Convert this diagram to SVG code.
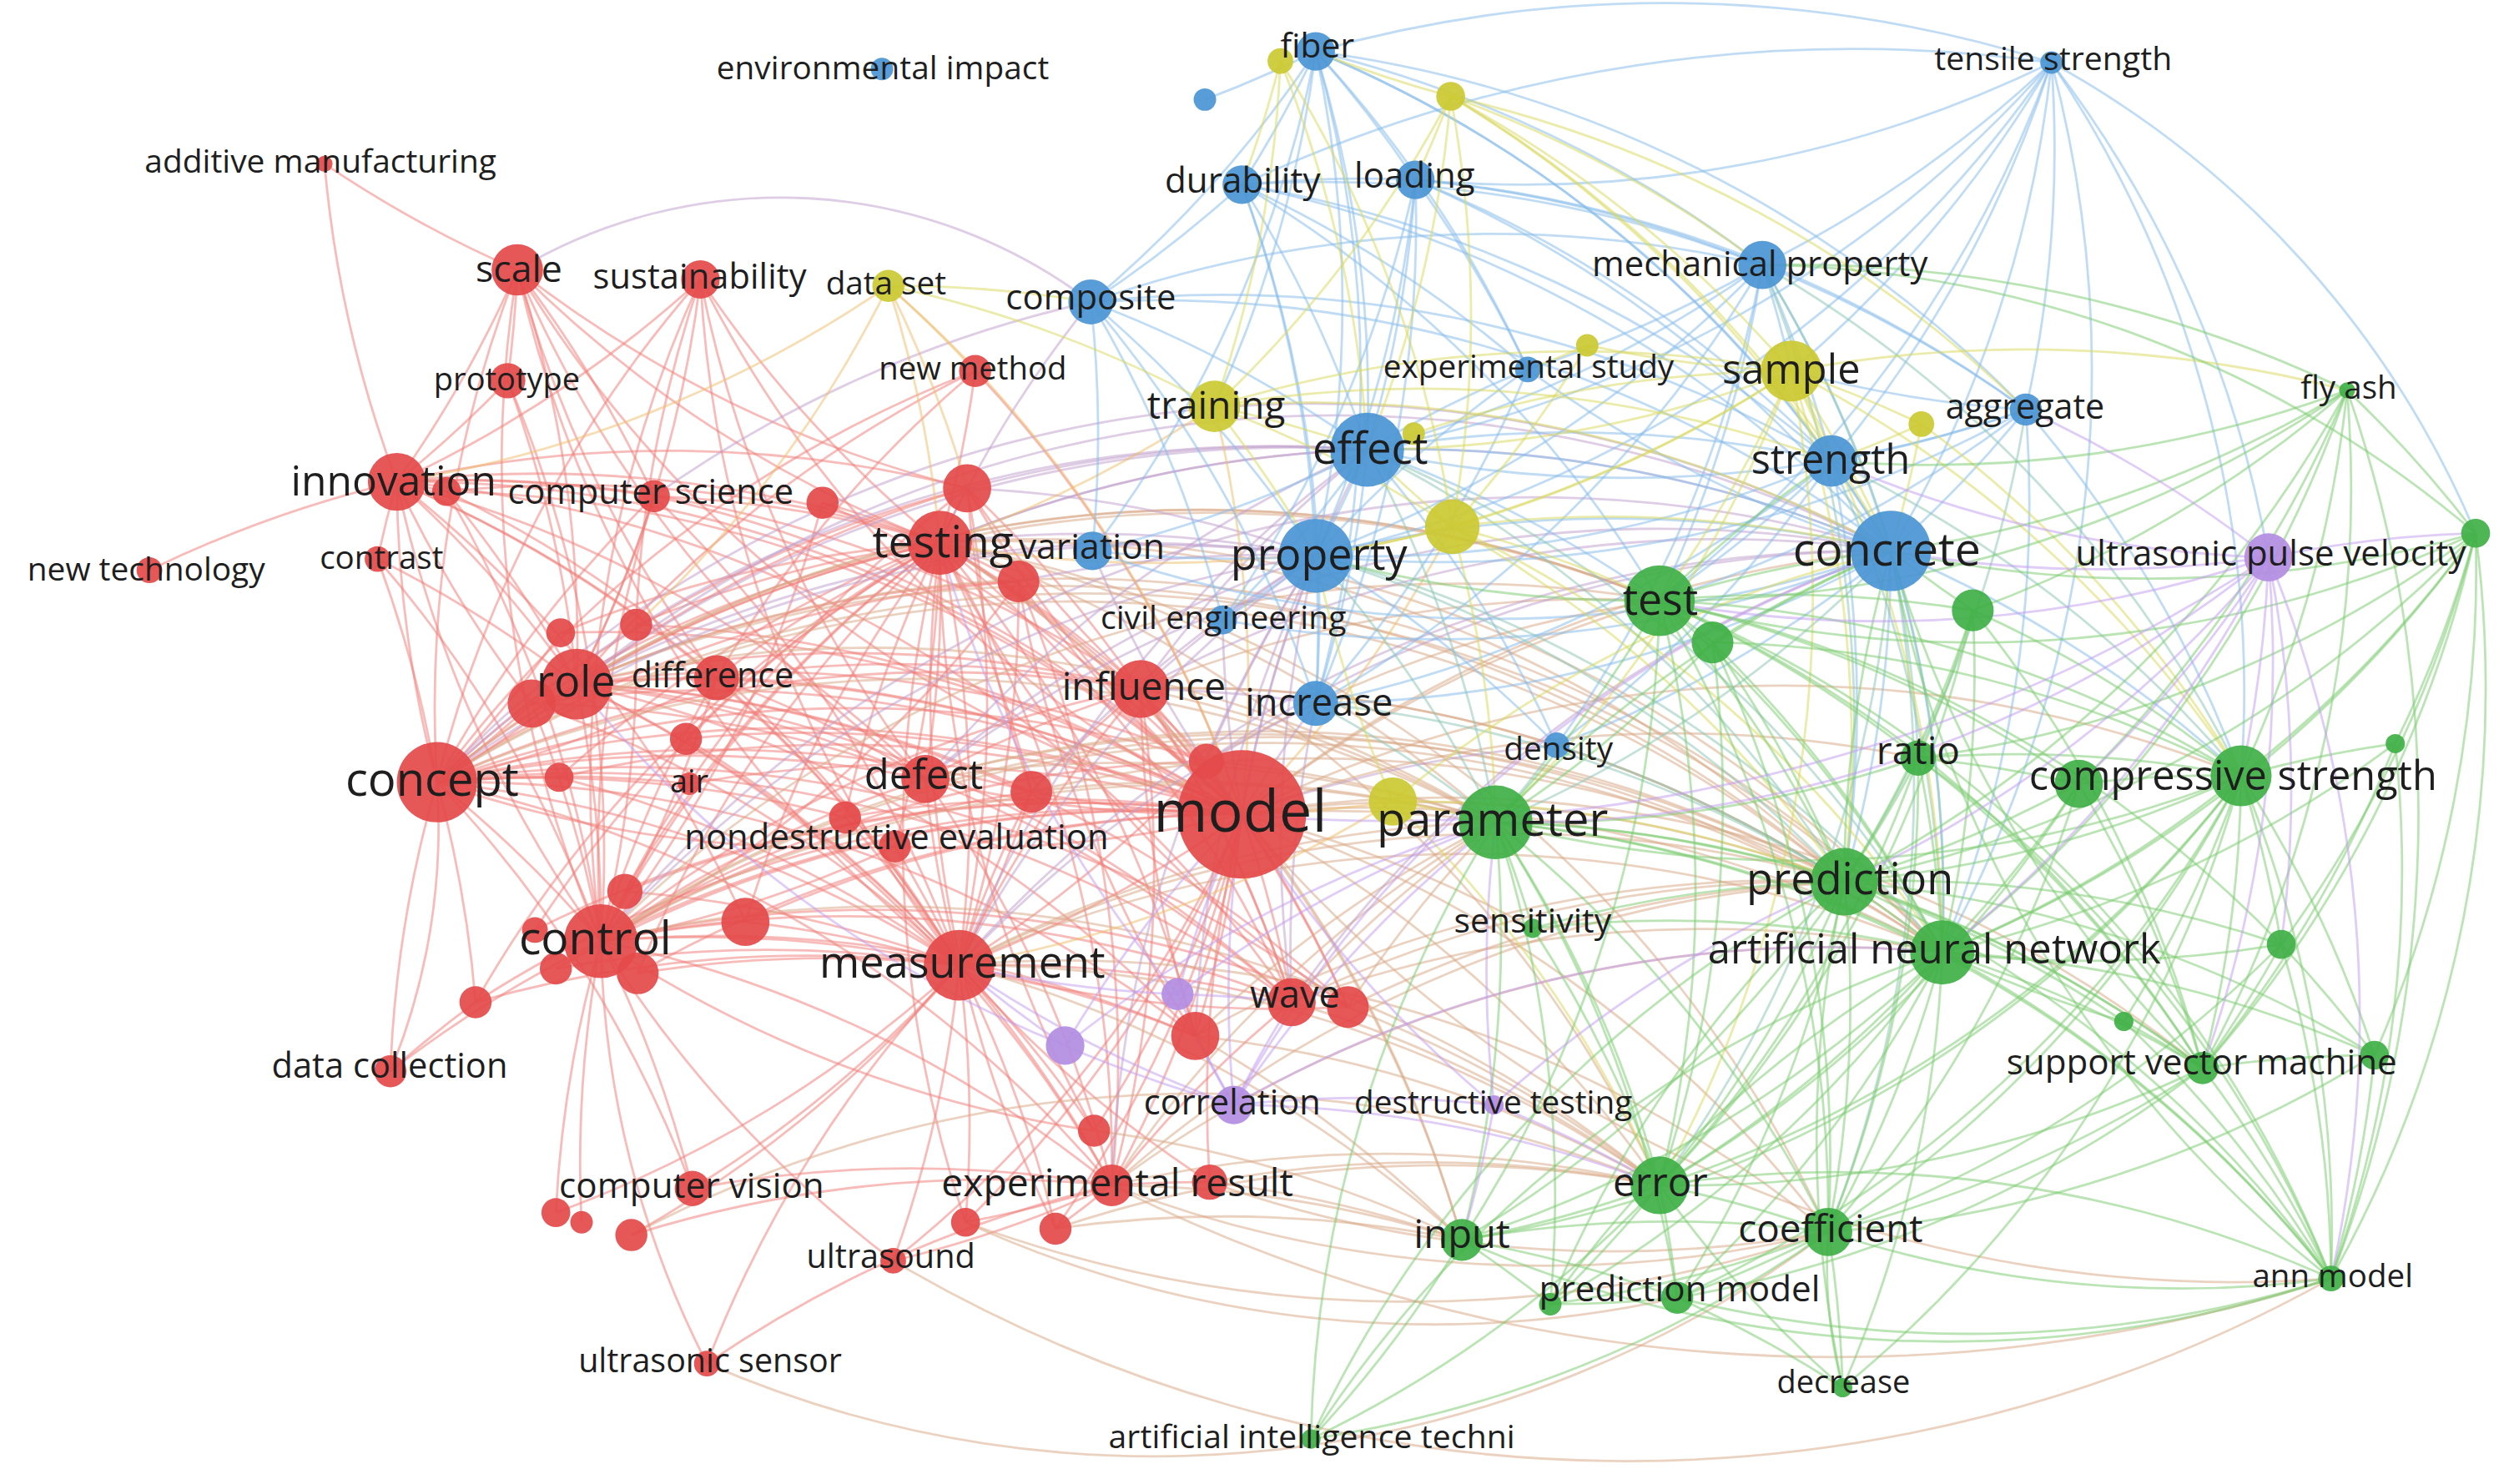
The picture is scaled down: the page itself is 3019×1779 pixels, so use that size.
<svg xmlns="http://www.w3.org/2000/svg" width="3019" height="1779" viewBox="0 0 3019 1779">
<style>
.c path{fill:none;stroke-width:1.45;stroke-opacity:.52}
.er{stroke:#f07e78}.eg{stroke:#7ccb72}.eb{stroke:#86bcea}.ey{stroke:#d8d860}.ep{stroke:#c29ef0}.em{stroke:#d9a886}.ex{stroke:#c0a0cc}.eo{stroke:#eebd6e}.et{stroke:#8cc6b4}
.nr{fill:#e44a4a}.nb{fill:#4b96d4}.ng{fill:#41b047}.ny{fill:#cbc933}.np{fill:#b48ee2}
circle{fill-opacity:.93}
text{font-family:"Open Sans","Noto Sans","DejaVu Sans",sans-serif;fill:#1e1e1e;text-anchor:middle}
</style>
<rect width="3019" height="1779" fill="#fff"/>
<g transform="scale(1.92538)">
<g id="connectors" class="c">
<path class="er" d="M322 168A750 750 0 0 1 202 102"/>
<path class="er" d="M247 300A750 750 0 0 1 202 102"/>
<path class="er" d="M322 168A750 750 0 0 1 247 300"/>
<path class="er" d="M322 168A750 750 0 0 1 316 237"/>
<path class="er" d="M322 168A750 750 0 0 1 359 426"/>
<path class="er" d="M322 168A750 750 0 0 1 407 309"/>
<path class="er" d="M585 338A750 750 0 0 1 322 168"/>
<path class="er" d="M773 507A750 750 0 0 1 322 168"/>
<path class="er" d="M576 485A750 750 0 0 1 322 168"/>
<path class="er" d="M446 422A750 750 0 0 1 322 168"/>
<path class="er" d="M602 304A750 750 0 0 1 322 168"/>
<path class="er" d="M597 601A750 750 0 0 1 322 168"/>
<path class="er" d="M272 487A750 750 0 0 1 322 168"/>
<path class="er" d="M374 586A750 750 0 0 1 322 168"/>
<path class="er" d="M436 174A750 750 0 0 1 247 300"/>
<path class="er" d="M436 174A750 750 0 0 1 359 426"/>
<path class="er" d="M585 338A750 750 0 0 1 436 174"/>
<path class="er" d="M773 507A750 750 0 0 1 436 174"/>
<path class="er" d="M374 586A750 750 0 0 1 436 174"/>
<path class="er" d="M272 487A750 750 0 0 1 436 174"/>
<path class="er" d="M576 485A750 750 0 0 1 436 174"/>
<path class="er" d="M396 389A750 750 0 0 1 436 174"/>
<path class="er" d="M597 601A750 750 0 0 1 436 174"/>
<path class="er" d="M316 237A750 750 0 0 1 247 300"/>
<path class="er" d="M316 237A750 750 0 0 1 359 426"/>
<path class="er" d="M316 237A750 750 0 0 1 374 586"/>
<path class="er" d="M93 355A750 750 0 0 1 247 300"/>
<path class="er" d="M235 348A750 750 0 0 1 247 300"/>
<path class="er" d="M247 300A750 750 0 0 1 278 306"/>
<path class="er" d="M247 300A750 750 0 0 1 407 309"/>
<path class="er" d="M247 300A750 750 0 0 1 359 426"/>
<path class="er" d="M272 487A750 750 0 0 1 247 300"/>
<path class="er" d="M374 586A750 750 0 0 1 247 300"/>
<path class="er" d="M247 300A750 750 0 0 1 585 338"/>
<path class="er" d="M247 300A750 750 0 0 1 773 507"/>
<path class="er" d="M247 300A750 750 0 0 1 597 601"/>
<path class="er" d="M247 300A750 750 0 0 1 576 485"/>
<path class="er" d="M247 300A750 750 0 0 1 446 422"/>
<path class="er" d="M247 300A750 750 0 0 1 602 304"/>
<path class="er" d="M247 300A750 750 0 0 1 464 574"/>
<path class="er" d="M331 438A750 750 0 0 1 247 300"/>
<path class="er" d="M247 300A750 750 0 0 1 710 429"/>
<path class="er" d="M235 348A750 750 0 0 1 359 426"/>
<path class="er" d="M235 348A750 750 0 0 1 272 487"/>
<path class="er" d="M235 348A750 750 0 0 1 374 586"/>
<path class="er" d="M407 309A750 750 0 0 1 359 426"/>
<path class="er" d="M407 309A750 750 0 0 1 585 338"/>
<path class="er" d="M407 309A750 750 0 0 1 773 507"/>
<path class="er" d="M272 487A750 750 0 0 1 407 309"/>
<path class="er" d="M374 586A750 750 0 0 1 407 309"/>
<path class="er" d="M407 309A750 750 0 0 1 597 601"/>
<path class="er" d="M607 231A750 750 0 0 1 585 338"/>
<path class="er" d="M607 231A750 750 0 0 1 773 507"/>
<path class="er" d="M359 426A750 750 0 0 1 607 231"/>
<path class="er" d="M374 586A750 750 0 0 1 607 231"/>
<path class="er" d="M272 487A750 750 0 0 1 607 231"/>
<path class="er" d="M512 313A750 750 0 0 1 585 338"/>
<path class="er" d="M512 313A750 750 0 0 1 773 507"/>
<path class="er" d="M359 426A750 750 0 0 1 272 487"/>
<path class="er" d="M359 426A750 750 0 0 1 374 586"/>
<path class="er" d="M359 426A750 750 0 0 1 585 338"/>
<path class="er" d="M359 426A750 750 0 0 1 773 507"/>
<path class="er" d="M359 426A750 750 0 0 1 597 601"/>
<path class="er" d="M359 426A750 750 0 0 1 576 485"/>
<path class="er" d="M359 426A750 750 0 0 1 710 429"/>
<path class="er" d="M359 426A750 750 0 0 1 446 422"/>
<path class="er" d="M359 426A750 750 0 0 1 642 493"/>
<path class="er" d="M359 426A750 750 0 0 1 804 624"/>
<path class="er" d="M359 426A750 750 0 0 1 602 304"/>
<path class="er" d="M359 426A750 750 0 0 1 634 362"/>
<path class="er" d="M359 426A750 750 0 0 1 744 645"/>
<path class="er" d="M359 426A750 750 0 0 1 751 474"/>
<path class="er" d="M359 426A750 750 0 0 1 692 738"/>
<path class="er" d="M331 438A750 750 0 0 1 272 487"/>
<path class="er" d="M331 438A750 750 0 0 1 374 586"/>
<path class="er" d="M331 438A750 750 0 0 1 773 507"/>
<path class="er" d="M331 438A750 750 0 0 1 585 338"/>
<path class="er" d="M446 422A750 750 0 0 1 272 487"/>
<path class="er" d="M446 422A750 750 0 0 1 374 586"/>
<path class="er" d="M446 422A750 750 0 0 1 773 507"/>
<path class="er" d="M446 422A750 750 0 0 1 585 338"/>
<path class="er" d="M446 422A750 750 0 0 1 597 601"/>
<path class="er" d="M272 487A750 750 0 0 1 374 586"/>
<path class="er" d="M272 487A750 750 0 0 1 585 338"/>
<path class="er" d="M272 487A750 750 0 0 1 773 507"/>
<path class="er" d="M272 487A750 750 0 0 1 597 601"/>
<path class="er" d="M272 487A750 750 0 0 1 576 485"/>
<path class="er" d="M272 487A750 750 0 0 1 710 429"/>
<path class="er" d="M272 487A750 750 0 0 1 804 624"/>
<path class="er" d="M272 487A750 750 0 0 1 692 738"/>
<path class="er" d="M272 487A750 750 0 0 1 602 304"/>
<path class="er" d="M272 487A750 750 0 0 1 634 362"/>
<path class="er" d="M272 487A750 750 0 0 1 642 493"/>
<path class="er" d="M243 667A750 750 0 0 1 272 487"/>
<path class="er" d="M272 487A400 400 0 0 1 243 667"/>
<path class="er" d="M272 487A750 750 0 0 1 296 624"/>
<path class="er" d="M272 487A750 750 0 0 1 751 474"/>
<path class="er" d="M272 487A750 750 0 0 1 744 645"/>
<path class="er" d="M272 487A750 750 0 0 1 839 627"/>
<path class="er" d="M272 487A750 750 0 0 1 431 740"/>
<path class="er" d="M272 487A750 750 0 0 1 429 488"/>
<path class="er" d="M272 487A750 750 0 0 1 348 484"/>
<path class="er" d="M272 487A750 750 0 0 1 526 509"/>
<path class="er" d="M374 586A750 750 0 0 1 585 338"/>
<path class="er" d="M374 586A750 750 0 0 1 773 507"/>
<path class="er" d="M374 586A750 750 0 0 1 597 601"/>
<path class="er" d="M374 586A750 750 0 0 1 576 485"/>
<path class="er" d="M374 586A750 750 0 0 1 710 429"/>
<path class="er" d="M374 586A750 750 0 0 1 804 624"/>
<path class="er" d="M374 586A750 750 0 0 1 692 738"/>
<path class="er" d="M374 586A750 750 0 0 1 602 304"/>
<path class="er" d="M374 586A750 750 0 0 1 744 645"/>
<path class="er" d="M243 667A750 750 0 0 1 374 586"/>
<path class="er" d="M374 586A750 750 0 0 1 431 740"/>
<path class="er" d="M440 849A600 600 0 0 1 374 586"/>
<path class="er" d="M374 586A750 750 0 0 1 642 493"/>
<path class="er" d="M374 586A750 750 0 0 1 464 574"/>
<path class="er" d="M374 586A750 750 0 0 1 839 627"/>
<path class="er" d="M374 586A750 750 0 0 1 751 474"/>
<path class="er" d="M556 785A750 750 0 0 1 374 586"/>
<path class="er" d="M585 338A750 750 0 0 1 773 507"/>
<path class="er" d="M585 338A750 750 0 0 1 597 601"/>
<path class="er" d="M585 338A750 750 0 0 1 576 485"/>
<path class="er" d="M585 338A750 750 0 0 1 710 429"/>
<path class="er" d="M585 338A750 750 0 0 1 602 304"/>
<path class="er" d="M585 338A750 750 0 0 1 634 362"/>
<path class="er" d="M585 338A750 750 0 0 1 804 624"/>
<path class="er" d="M585 338A750 750 0 0 1 692 738"/>
<path class="er" d="M585 338A750 750 0 0 1 744 645"/>
<path class="er" d="M585 338A750 750 0 0 1 642 493"/>
<path class="er" d="M585 338A750 750 0 0 1 751 474"/>
<path class="er" d="M585 338A750 750 0 0 1 557 527"/>
<path class="er" d="M773 507A750 750 0 0 1 597 601"/>
<path class="er" d="M773 507A750 750 0 0 1 576 485"/>
<path class="er" d="M773 507A750 750 0 0 1 710 429"/>
<path class="er" d="M773 507A750 750 0 0 1 804 624"/>
<path class="er" d="M773 507A750 750 0 0 1 692 738"/>
<path class="er" d="M773 507A750 750 0 0 1 744 645"/>
<path class="er" d="M773 507A750 750 0 0 1 642 493"/>
<path class="er" d="M773 507A750 750 0 0 1 751 474"/>
<path class="er" d="M773 507A750 750 0 0 1 839 627"/>
<path class="er" d="M773 507A750 750 0 0 1 681 704"/>
<path class="er" d="M773 507A750 750 0 0 1 657 765"/>
<path class="er" d="M773 507A750 750 0 0 1 601 761"/>
<path class="er" d="M773 507A750 750 0 0 1 556 785"/>
<path class="er" d="M773 507A750 750 0 0 1 602 304"/>
<path class="er" d="M773 507A750 750 0 0 1 634 362"/>
<path class="er" d="M773 507A750 750 0 0 1 557 527"/>
<path class="er" d="M597 601A750 750 0 0 1 576 485"/>
<path class="er" d="M597 601A750 750 0 0 1 804 624"/>
<path class="er" d="M597 601A750 750 0 0 1 692 738"/>
<path class="er" d="M597 601A750 750 0 0 1 744 645"/>
<path class="er" d="M597 601A750 750 0 0 1 556 785"/>
<path class="er" d="M597 601A750 750 0 0 1 601 761"/>
<path class="er" d="M597 601A750 750 0 0 1 657 765"/>
<path class="er" d="M597 601A750 750 0 0 1 681 704"/>
<path class="er" d="M440 849A750 750 0 0 1 597 601"/>
<path class="er" d="M597 601A750 750 0 0 1 431 740"/>
<path class="er" d="M597 601A750 750 0 0 1 393 769"/>
<path class="er" d="M597 601A750 750 0 0 1 346 755"/>
<path class="er" d="M597 601A750 750 0 0 1 710 429"/>
<path class="er" d="M597 601A750 750 0 0 1 642 493"/>
<path class="er" d="M692 738A750 750 0 0 1 804 624"/>
<path class="er" d="M692 738A750 750 0 0 1 753 736"/>
<path class="er" d="M692 738A750 750 0 0 1 657 765"/>
<path class="er" d="M692 738A750 750 0 0 1 601 761"/>
<path class="er" d="M692 738A750 750 0 0 1 556 785"/>
<path class="er" d="M431 740A750 750 0 0 1 692 738"/>
<path class="er" d="M393 769A750 750 0 0 1 692 738"/>
<path class="er" d="M243 667A750 750 0 0 1 296 624"/>
<path class="er" d="M296 624A750 750 0 0 1 773 507"/>
<path class="er" d="M389 555A750 750 0 0 1 773 507"/>
<path class="er" d="M389 555A750 750 0 0 1 585 338"/>
<path class="er" d="M333 579A750 750 0 0 1 773 507"/>
<path class="er" d="M346 603A750 750 0 0 1 597 601"/>
<path class="er" d="M397 606A750 750 0 0 1 773 507"/>
<path class="er" d="M397 606A750 750 0 0 1 585 338"/>
<path class="er" d="M464 574A750 750 0 0 1 773 507"/>
<path class="er" d="M464 574A750 750 0 0 1 585 338"/>
<path class="er" d="M296 624A750 750 0 0 1 597 601"/>
<path class="er" d="M349 394A750 750 0 0 1 773 507"/>
<path class="er" d="M396 389A750 750 0 0 1 585 338"/>
<path class="er" d="M427 460A750 750 0 0 1 773 507"/>
<path class="er" d="M429 488A750 750 0 0 1 773 507"/>
<path class="er" d="M348 484A750 750 0 0 1 597 601"/>
<path class="er" d="M526 509A750 750 0 0 1 773 507"/>
<path class="er" d="M576 485A750 750 0 0 1 710 429"/>
<path class="er" d="M576 485A750 750 0 0 1 804 624"/>
<path class="er" d="M710 429A750 750 0 0 1 804 624"/>
<path class="er" d="M710 429A750 750 0 0 1 692 738"/>
<path class="er" d="M710 429A750 750 0 0 1 602 304"/>
<path class="er" d="M362 761A750 750 0 0 1 374 586"/>
<path class="er" d="M346 755A750 750 0 0 1 374 586"/>
<path class="er" d="M278 306A750 750 0 0 1 773 507"/>
<path class="er" d="M278 306A750 750 0 0 1 597 601"/>
<path class="er" d="M512 313A750 750 0 0 1 374 586"/>
<path class="er" d="M634 362A750 750 0 0 1 692 738"/>
<path class="er" d="M602 304A750 750 0 0 1 804 624"/>
<path class="er" d="M440 849A750 750 0 0 1 692 738"/>
<path class="er" d="M349 394A750 750 0 0 1 585 338"/>
<path class="er" d="M427 460A750 750 0 0 1 597 601"/>
<path class="er" d="M526 509A750 750 0 0 1 585 338"/>
<path class="er" d="M557 527A750 750 0 0 1 374 586"/>
<path class="er" d="M642 493A750 750 0 0 1 602 304"/>
<path class="er" d="M744 645A750 750 0 0 1 634 362"/>
<path class="er" d="M278 306A750 750 0 0 1 585 338"/>
<path class="er" d="M278 306A750 750 0 0 1 374 586"/>
<path class="er" d="M278 306A750 750 0 0 1 359 426"/>
<path class="er" d="M349 394A750 750 0 0 1 272 487"/>
<path class="er" d="M396 389A750 750 0 0 1 773 507"/>
<path class="er" d="M396 389A750 750 0 0 1 374 586"/>
<path class="er" d="M331 438A750 750 0 0 1 597 601"/>
<path class="er" d="M331 438A750 750 0 0 1 576 485"/>
<path class="er" d="M427 460A750 750 0 0 1 585 338"/>
<path class="er" d="M348 484A750 750 0 0 1 773 507"/>
<path class="er" d="M348 484A750 750 0 0 1 585 338"/>
<path class="er" d="M642 493A750 750 0 0 1 597 601"/>
<path class="er" d="M642 493A750 750 0 0 1 710 429"/>
<path class="er" d="M526 509A750 750 0 0 1 597 601"/>
<path class="er" d="M751 474A750 750 0 0 1 597 601"/>
<path class="er" d="M389 555A750 750 0 0 1 597 601"/>
<path class="er" d="M333 579A750 750 0 0 1 585 338"/>
<path class="er" d="M346 603A750 750 0 0 1 773 507"/>
<path class="er" d="M397 606A750 750 0 0 1 597 601"/>
<path class="er" d="M464 574A750 750 0 0 1 597 601"/>
<path class="er" d="M296 624A750 750 0 0 1 585 338"/>
<path class="er" d="M839 627A750 750 0 0 1 597 601"/>
<path class="er" d="M839 627A750 750 0 0 1 585 338"/>
<path class="er" d="M744 645A750 750 0 0 1 710 429"/>
<path class="er" d="M681 704A750 750 0 0 1 585 338"/>
<path class="er" d="M681 704A750 750 0 0 1 374 586"/>
<path class="er" d="M753 736A750 750 0 0 1 597 601"/>
<path class="er" d="M753 736A750 750 0 0 1 773 507"/>
<path class="er" d="M601 761A750 750 0 0 1 585 338"/>
<path class="er" d="M657 765A750 750 0 0 1 585 338"/>
<path class="er" d="M576 485A750 750 0 0 1 692 738"/>
<path class="er" d="M710 429A750 750 0 0 1 839 627"/>
<path class="er" d="M557 527A750 750 0 0 1 597 601"/>
<path class="er" d="M557 527A750 750 0 0 1 272 487"/>
<path class="er" d="M602 304A750 750 0 0 1 597 601"/>
<path class="er" d="M634 362A750 750 0 0 1 597 601"/>
<path class="er" d="M634 362A750 750 0 0 1 374 586"/>
<path class="er" d="M446 422A750 750 0 0 1 710 429"/>
<path class="er" d="M446 422A750 750 0 0 1 576 485"/>
<path class="er" d="M359 426A750 750 0 0 1 839 627"/>
<path class="er" d="M247 300A750 750 0 0 1 804 624"/>
<path class="em" d="M773 507A750 750 0 0 1 931 512"/>
<path class="em" d="M773 507A750 750 0 0 1 1209 593"/>
<path class="em" d="M773 507A750 750 0 0 1 1148 549"/>
<path class="em" d="M773 507A750 750 0 0 1 1177 343"/>
<path class="em" d="M773 507A750 750 0 0 1 1033 374"/>
<path class="em" d="M773 507A750 750 0 0 1 1033 738"/>
<path class="em" d="M773 507A750 750 0 0 1 910 772"/>
<path class="em" d="M773 507A750 750 0 0 1 1138 767"/>
<path class="em" d="M773 507A750 750 0 0 1 1395 483"/>
<path class="em" d="M585 338A750 750 0 0 1 931 512"/>
<path class="em" d="M585 338A750 750 0 0 1 1148 549"/>
<path class="em" d="M585 338A750 750 0 0 1 1209 593"/>
<path class="em" d="M597 601A750 750 0 0 1 931 512"/>
<path class="em" d="M597 601A750 750 0 0 1 1209 593"/>
<path class="em" d="M597 601A750 750 0 0 1 1033 738"/>
<path class="em" d="M597 601A750 750 0 0 1 1148 549"/>
<path class="em" d="M597 601A750 750 0 0 1 910 772"/>
<path class="em" d="M272 487A750 750 0 0 1 931 512"/>
<path class="em" d="M272 487A750 750 0 0 1 1148 549"/>
<path class="em" d="M374 586A750 750 0 0 1 931 512"/>
<path class="em" d="M374 586A750 750 0 0 1 1209 593"/>
<path class="em" d="M374 586A750 750 0 0 1 1033 738"/>
<path class="em" d="M359 426A750 750 0 0 1 931 512"/>
<path class="em" d="M359 426A750 750 0 0 1 1148 549"/>
<path class="em" d="M692 738A750 750 0 0 1 1033 738"/>
<path class="em" d="M692 738A750 750 0 0 1 910 772"/>
<path class="em" d="M692 738A750 750 0 0 1 1209 593"/>
<path class="em" d="M1138 767A750 750 0 0 1 692 738"/>
<path class="em" d="M1138 767A700 700 0 0 1 440 849"/>
<path class="em" d="M1451 796A900 900 0 0 1 556 785"/>
<path class="em" d="M1138 767A800 800 0 0 1 601 761"/>
<path class="em" d="M1451 796A1000 1000 0 0 1 692 738"/>
<path class="em" d="M804 624A750 750 0 0 1 931 512"/>
<path class="em" d="M804 624A750 750 0 0 1 1033 738"/>
<path class="em" d="M804 624A750 750 0 0 1 1209 593"/>
<path class="em" d="M710 429A750 750 0 0 1 931 512"/>
<path class="em" d="M710 429A750 750 0 0 1 1148 549"/>
<path class="em" d="M576 485A750 750 0 0 1 931 512"/>
<path class="em" d="M576 485A750 750 0 0 1 1209 593"/>
<path class="em" d="M642 493A750 750 0 0 1 931 512"/>
<path class="em" d="M744 645A750 750 0 0 1 910 772"/>
<path class="em" d="M744 645A750 750 0 0 1 1033 738"/>
<path class="em" d="M657 765A750 750 0 0 1 1033 738"/>
<path class="em" d="M657 765A750 750 0 0 1 910 772"/>
<path class="em" d="M1044 808A700 700 0 0 1 601 761"/>
<path class="em" d="M1138 767A750 750 0 0 1 753 736"/>
<path class="em" d="M393 769A750 750 0 0 1 1033 738"/>
<path class="em" d="M839 627A750 750 0 0 1 1033 738"/>
<path class="em" d="M839 627A750 750 0 0 1 1148 549"/>
<path class="em" d="M751 474A750 750 0 0 1 1033 374"/>
<path class="em" d="M681 704A750 750 0 0 1 910 772"/>
<path class="em" d="M585 338A750 750 0 0 1 1033 738"/>
<path class="em" d="M585 338A750 750 0 0 1 1138 767"/>
<path class="em" d="M585 338A750 750 0 0 1 910 772"/>
<path class="em" d="M585 338A750 750 0 0 1 1033 374"/>
<path class="em" d="M597 601A750 750 0 0 1 1138 767"/>
<path class="em" d="M272 487A750 750 0 0 1 1209 593"/>
<path class="em" d="M272 487A750 750 0 0 1 1033 374"/>
<path class="em" d="M374 586A750 750 0 0 1 1148 549"/>
<path class="em" d="M374 586A750 750 0 0 1 1033 374"/>
<path class="em" d="M359 426A750 750 0 0 1 1209 593"/>
<path class="em" d="M359 426A750 750 0 0 1 1033 374"/>
<path class="em" d="M576 485A750 750 0 0 1 1148 549"/>
<path class="em" d="M710 429A750 750 0 0 1 1209 593"/>
<path class="em" d="M710 429A750 750 0 0 1 1033 374"/>
<path class="em" d="M804 624A750 750 0 0 1 1148 549"/>
<path class="em" d="M744 645A750 750 0 0 1 931 512"/>
<path class="em" d="M744 645A750 750 0 0 1 1148 549"/>
<path class="em" d="M839 627A750 750 0 0 1 931 512"/>
<path class="em" d="M751 474A750 750 0 0 1 931 512"/>
<path class="em" d="M642 493A750 750 0 0 1 1148 549"/>
<path class="em" d="M773 507A750 750 0 0 1 954 578"/>
<path class="em" d="M773 507A750 750 0 0 1 1194 472"/>
<path class="em" d="M773 507A750 750 0 0 1 1371 665"/>
<path class="em" d="M1451 796A800 800 0 0 1 773 507"/>
<path class="em" d="M692 738A750 750 0 0 1 1148 549"/>
<path class="em" d="M692 738A750 750 0 0 1 931 512"/>
<path class="em" d="M753 736A750 750 0 0 1 1033 738"/>
<path class="em" d="M753 736A750 750 0 0 1 910 772"/>
<path class="ex" d="M322 168A320 320 0 0 1 679 188"/>
<path class="ex" d="M585 338A750 750 0 0 1 819 346"/>
<path class="ex" d="M585 338A750 750 0 0 1 851 280"/>
<path class="ex" d="M585 338A750 750 0 0 1 1177 343"/>
<path class="ex" d="M585 338A750 750 0 0 1 679 188"/>
<path class="ex" d="M359 426A750 750 0 0 1 819 346"/>
<path class="ex" d="M359 426A750 750 0 0 1 851 280"/>
<path class="ex" d="M359 426A750 750 0 0 1 1177 343"/>
<path class="ex" d="M576 485A750 750 0 0 1 819 346"/>
<path class="ex" d="M576 485A750 750 0 0 1 1177 343"/>
<path class="ex" d="M710 429A750 750 0 0 1 819 346"/>
<path class="ex" d="M710 429A750 750 0 0 1 819 438"/>
<path class="ex" d="M710 429A750 750 0 0 1 1177 343"/>
<path class="ex" d="M773 507A750 750 0 0 1 819 346"/>
<path class="ex" d="M773 507A750 750 0 0 1 851 280"/>
<path class="ex" d="M773 507A750 750 0 0 1 819 438"/>
<path class="ex" d="M773 507A750 750 0 0 1 761 386"/>
<path class="ex" d="M773 507A750 750 0 0 1 680 343"/>
<path class="ex" d="M773 507A750 750 0 0 1 969 464"/>
<path class="ex" d="M272 487A750 750 0 0 1 819 346"/>
<path class="ex" d="M272 487A750 750 0 0 1 851 280"/>
<path class="ex" d="M374 586A750 750 0 0 1 819 346"/>
<path class="ex" d="M597 601A750 750 0 0 1 819 346"/>
<path class="ex" d="M597 601A750 750 0 0 1 819 438"/>
<path class="ex" d="M602 304A750 750 0 0 1 851 280"/>
<path class="ex" d="M602 304A750 750 0 0 1 819 346"/>
<path class="ex" d="M634 362A750 750 0 0 1 819 346"/>
<path class="ex" d="M804 624A750 750 0 0 1 819 438"/>
<path class="ex" d="M642 493A750 750 0 0 1 819 346"/>
<path class="ex" d="M407 309A750 750 0 0 1 679 188"/>
<path class="ex" d="M576 485A750 750 0 0 1 851 280"/>
<path class="ex" d="M597 601A750 750 0 0 1 1177 343"/>
<path class="ex" d="M597 601A750 750 0 0 1 851 280"/>
<path class="ex" d="M374 586A750 750 0 0 1 1177 343"/>
<path class="ex" d="M272 487A750 750 0 0 1 1177 343"/>
<path class="ex" d="M804 624A750 750 0 0 1 819 346"/>
<path class="ex" d="M804 624A750 750 0 0 1 1177 343"/>
<path class="ex" d="M710 429A750 750 0 0 1 851 280"/>
<path class="ex" d="M692 738A750 750 0 0 1 819 346"/>
<path class="ex" d="M744 645A750 750 0 0 1 819 346"/>
<path class="ex" d="M751 474A750 750 0 0 1 819 346"/>
<path class="ex" d="M751 474A750 750 0 0 1 1177 343"/>
<path class="eo" d="M553 178A750 750 0 0 1 607 231"/>
<path class="eo" d="M553 178A750 750 0 0 1 585 338"/>
<path class="eo" d="M553 178A750 750 0 0 1 602 304"/>
<path class="eo" d="M553 178A750 750 0 0 1 396 389"/>
<path class="eo" d="M553 178A750 750 0 0 1 247 300"/>
<path class="eo" d="M553 178A750 750 0 0 1 773 507"/>
<path class="eo" d="M756 253A750 750 0 0 1 585 338"/>
<path class="eo" d="M756 253A750 750 0 0 1 773 507"/>
<path class="eo" d="M904 328A750 750 0 0 1 773 507"/>
<path class="eo" d="M867 499A750 750 0 0 1 773 507"/>
<path class="eo" d="M904 328A750 750 0 0 1 585 338"/>
<path class="eo" d="M867 499A750 750 0 0 1 597 601"/>
<path class="eb" d="M819 32A750 750 0 0 1 773 115"/>
<path class="eb" d="M819 32A750 750 0 0 1 881 112"/>
<path class="eb" d="M819 32A750 750 0 0 1 851 280"/>
<path class="eb" d="M819 32A750 750 0 0 1 819 346"/>
<path class="eb" d="M819 32A750 750 0 0 1 1177 343"/>
<path class="eb" d="M819 32A750 750 0 0 1 1140 287"/>
<path class="eb" d="M819 32A750 750 0 0 1 1097 165"/>
<path class="eb" d="M819 32A800 800 0 0 1 1277 39"/>
<path class="eb" d="M819 32A750 750 0 0 1 679 188"/>
<path class="eb" d="M819 32A750 750 0 0 1 756 253"/>
<path class="eb" d="M819 32A750 750 0 0 1 951 230"/>
<path class="eb" d="M819 32A750 750 0 0 1 1261 255"/>
<path class="eb" d="M819 32A750 750 0 0 1 750 62"/>
<path class="eb" d="M819 32A750 750 0 0 1 819 438"/>
<path class="eb" d="M819 32A750 750 0 0 1 680 343"/>
<path class="eb" d="M1277 39A750 750 0 0 1 1097 165"/>
<path class="eb" d="M1277 39A750 750 0 0 1 1177 343"/>
<path class="eb" d="M1277 39A750 750 0 0 1 1140 287"/>
<path class="eb" d="M1277 39A750 750 0 0 1 1261 255"/>
<path class="eb" d="M1277 39A750 750 0 0 1 851 280"/>
<path class="eb" d="M1277 39A750 750 0 0 1 819 346"/>
<path class="eb" d="M1277 39A750 750 0 0 1 1115 231"/>
<path class="eb" d="M1277 39A750 750 0 0 1 881 112"/>
<path class="eb" d="M1277 39A900 900 0 0 0 773 115"/>
<path class="eb" d="M1277 39A700 700 0 0 1 1395 483"/>
<path class="eb" d="M1277 39A700 700 0 0 1 1412 347"/>
<path class="eb" d="M1277 39A750 750 0 0 1 1033 374"/>
<path class="eb" d="M1277 39A600 600 0 0 1 1541 332"/>
<path class="eb" d="M1277 39A750 750 0 0 1 1209 593"/>
<path class="eb" d="M773 115A750 750 0 0 1 851 280"/>
<path class="eb" d="M773 115A750 750 0 0 1 819 346"/>
<path class="eb" d="M773 115A750 750 0 0 1 1177 343"/>
<path class="eb" d="M773 115A750 750 0 0 1 1140 287"/>
<path class="eb" d="M773 115A750 750 0 0 1 1097 165"/>
<path class="eb" d="M773 115A750 750 0 0 1 679 188"/>
<path class="eb" d="M773 115A750 750 0 0 1 819 438"/>
<path class="eb" d="M773 115A750 750 0 0 1 951 230"/>
<path class="eb" d="M773 115A750 750 0 0 1 881 112"/>
<path class="eb" d="M773 115A750 750 0 0 1 1033 374"/>
<path class="eb" d="M881 112A750 750 0 0 1 851 280"/>
<path class="eb" d="M881 112A750 750 0 0 1 819 346"/>
<path class="eb" d="M881 112A750 750 0 0 1 1177 343"/>
<path class="eb" d="M881 112A750 750 0 0 1 1140 287"/>
<path class="eb" d="M881 112A750 750 0 0 1 1097 165"/>
<path class="eb" d="M881 112A750 750 0 0 1 951 230"/>
<path class="eb" d="M881 112A750 750 0 0 1 819 438"/>
<path class="eb" d="M881 112A750 750 0 0 1 761 386"/>
<path class="eb" d="M881 112A750 750 0 0 1 1261 255"/>
<path class="eb" d="M679 188A750 750 0 0 1 851 280"/>
<path class="eb" d="M679 188A750 750 0 0 1 819 346"/>
<path class="eb" d="M679 188A750 750 0 0 1 1177 343"/>
<path class="eb" d="M679 188A750 750 0 0 1 680 343"/>
<path class="eb" d="M679 188A750 750 0 0 1 1097 165"/>
<path class="eb" d="M679 188A750 750 0 0 1 1140 287"/>
<path class="eb" d="M679 188A750 750 0 0 1 761 386"/>
<path class="eb" d="M679 188A750 750 0 0 1 819 438"/>
<path class="eb" d="M1097 165A750 750 0 0 1 851 280"/>
<path class="eb" d="M1097 165A750 750 0 0 1 819 346"/>
<path class="eb" d="M1097 165A750 750 0 0 1 1177 343"/>
<path class="eb" d="M1097 165A750 750 0 0 1 1140 287"/>
<path class="eb" d="M1097 165A750 750 0 0 1 1261 255"/>
<path class="eb" d="M1097 165A750 750 0 0 1 1115 231"/>
<path class="eb" d="M1097 165A750 750 0 0 1 951 230"/>
<path class="eb" d="M1097 165A750 750 0 0 1 819 438"/>
<path class="eb" d="M1097 165A750 750 0 0 1 969 464"/>
<path class="eb" d="M1097 165A750 750 0 0 1 1033 374"/>
<path class="eb" d="M1261 255A750 750 0 0 1 1177 343"/>
<path class="eb" d="M1261 255A750 750 0 0 1 1140 287"/>
<path class="eb" d="M1261 255A750 750 0 0 1 851 280"/>
<path class="eb" d="M1261 255A750 750 0 0 1 819 346"/>
<path class="eb" d="M1261 255A750 750 0 0 1 1115 231"/>
<path class="eb" d="M1261 255A750 750 0 0 1 1395 483"/>
<path class="eb" d="M1261 255A750 750 0 0 1 1033 374"/>
<path class="eb" d="M1261 255A750 750 0 0 1 1209 593"/>
<path class="eb" d="M851 280A750 750 0 0 1 819 346"/>
<path class="eb" d="M851 280A750 750 0 0 1 1177 343"/>
<path class="eb" d="M851 280A750 750 0 0 1 1140 287"/>
<path class="eb" d="M851 280A750 750 0 0 1 819 438"/>
<path class="eb" d="M851 280A750 750 0 0 1 680 343"/>
<path class="eb" d="M851 280A750 750 0 0 1 761 386"/>
<path class="eb" d="M851 280A750 750 0 0 1 969 464"/>
<path class="eb" d="M851 280A750 750 0 0 1 951 230"/>
<path class="eb" d="M851 280A750 750 0 0 1 1033 374"/>
<path class="eb" d="M1140 287A750 750 0 0 1 1177 343"/>
<path class="eb" d="M1140 287A750 750 0 0 1 819 346"/>
<path class="eb" d="M1140 287A750 750 0 0 1 819 438"/>
<path class="eb" d="M1140 287A750 750 0 0 1 969 464"/>
<path class="eb" d="M1140 287A750 750 0 0 1 1033 374"/>
<path class="eb" d="M1140 287A750 750 0 0 1 1148 549"/>
<path class="eb" d="M819 346A750 750 0 0 1 1177 343"/>
<path class="eb" d="M819 346A750 750 0 0 1 819 438"/>
<path class="eb" d="M819 346A750 750 0 0 1 761 386"/>
<path class="eb" d="M819 346A750 750 0 0 1 680 343"/>
<path class="eb" d="M819 346A750 750 0 0 1 969 464"/>
<path class="eb" d="M819 346A750 750 0 0 1 951 230"/>
<path class="eb" d="M1177 343A750 750 0 0 1 819 438"/>
<path class="eb" d="M1177 343A750 750 0 0 1 969 464"/>
<path class="eb" d="M1177 343A750 750 0 0 1 680 343"/>
<path class="eb" d="M1177 343A750 750 0 0 1 761 386"/>
<path class="eb" d="M1177 343A750 750 0 0 1 951 230"/>
<path class="eb" d="M951 230A750 750 0 0 1 819 438"/>
<path class="eb" d="M1177 343A750 750 0 0 1 1395 483"/>
<path class="eb" d="M1177 343A750 750 0 0 1 1209 593"/>
<path class="eb" d="M1177 343A750 750 0 0 1 1148 549"/>
<path class="et" d="M1177 343A750 750 0 0 1 1033 738"/>
<path class="et" d="M1177 343A750 750 0 0 1 1138 767"/>
<path class="et" d="M1177 343A750 750 0 0 1 1194 472"/>
<path class="et" d="M1177 343A750 750 0 0 1 931 512"/>
<path class="et" d="M1140 287A750 750 0 0 1 1395 483"/>
<path class="et" d="M1140 287A750 750 0 0 1 1209 593"/>
<path class="et" d="M819 346A750 750 0 0 1 931 512"/>
<path class="et" d="M819 346A750 750 0 0 1 1148 549"/>
<path class="et" d="M819 346A750 750 0 0 1 1209 593"/>
<path class="et" d="M851 280A750 750 0 0 1 931 512"/>
<path class="et" d="M851 280A750 750 0 0 1 1148 549"/>
<path class="et" d="M851 280A750 750 0 0 1 1209 593"/>
<path class="et" d="M819 438A750 750 0 0 1 931 512"/>
<path class="et" d="M819 438A750 750 0 0 1 1148 549"/>
<path class="et" d="M1097 165A750 750 0 0 1 1395 483"/>
<path class="et" d="M1097 165A750 750 0 0 1 1148 549"/>
<path class="et" d="M1097 165A750 750 0 0 1 1209 593"/>
<path class="et" d="M1261 255A750 750 0 0 1 1148 549"/>
<path class="et" d="M969 464A750 750 0 0 1 931 512"/>
<path class="et" d="M969 464A750 750 0 0 1 1148 549"/>
<path class="ey" d="M797 38A750 750 0 0 1 756 253"/>
<path class="ey" d="M797 38A750 750 0 0 1 773 115"/>
<path class="ey" d="M797 38A750 750 0 0 1 904 328"/>
<path class="ey" d="M797 38A750 750 0 0 1 851 280"/>
<path class="ey" d="M903 60A750 750 0 0 1 819 32"/>
<path class="ey" d="M903 60A750 750 0 0 1 881 112"/>
<path class="ey" d="M903 60A750 750 0 0 1 756 253"/>
<path class="ey" d="M903 60A750 750 0 0 1 1115 231"/>
<path class="ey" d="M903 60A750 750 0 0 1 851 280"/>
<path class="ey" d="M903 60A750 750 0 0 1 1097 165"/>
<path class="ey" d="M903 60A750 750 0 0 1 904 328"/>
<path class="ey" d="M903 60A750 750 0 0 1 1177 343"/>
<path class="ey" d="M903 60A750 750 0 0 1 1140 287"/>
<path class="ey" d="M903 60A750 750 0 0 1 1261 255"/>
<path class="ey" d="M553 178A750 750 0 0 1 756 253"/>
<path class="ey" d="M553 178A750 750 0 0 1 679 188"/>
<path class="ey" d="M756 253A750 750 0 0 1 904 328"/>
<path class="ey" d="M756 253A750 750 0 0 1 851 280"/>
<path class="ey" d="M756 253A750 750 0 0 1 819 346"/>
<path class="ey" d="M756 253A750 750 0 0 1 1115 231"/>
<path class="ey" d="M756 253A750 750 0 0 1 1177 343"/>
<path class="ey" d="M756 253A750 750 0 0 1 1140 287"/>
<path class="ey" d="M1115 231A750 750 0 0 1 1140 287"/>
<path class="ey" d="M1115 231A750 750 0 0 1 1177 343"/>
<path class="ey" d="M1115 231A750 750 0 0 1 851 280"/>
<path class="ey" d="M1115 231A750 750 0 0 1 819 346"/>
<path class="ey" d="M1115 231A750 750 0 0 1 1033 374"/>
<path class="ey" d="M1115 231A750 750 0 0 1 1196 264"/>
<path class="ey" d="M1115 231A750 750 0 0 1 904 328"/>
<path class="ey" d="M1115 231A750 750 0 0 1 931 512"/>
<path class="ey" d="M1115 231A750 750 0 0 1 1209 593"/>
<path class="ey" d="M1115 231A750 750 0 0 1 1148 549"/>
<path class="ey" d="M1115 231A750 750 0 0 1 988 215"/>
<path class="ey" d="M1115 231A750 750 0 0 1 1395 483"/>
<path class="ey" d="M1115 231A800 800 0 0 1 1461 243"/>
<path class="ey" d="M988 215A750 750 0 0 1 951 230"/>
<path class="ey" d="M988 215A750 750 0 0 1 904 328"/>
<path class="ey" d="M880 270A750 750 0 0 1 851 280"/>
<path class="ey" d="M880 270A750 750 0 0 1 1115 231"/>
<path class="ey" d="M904 328A750 750 0 0 1 819 346"/>
<path class="ey" d="M904 328A750 750 0 0 1 851 280"/>
<path class="ey" d="M904 328A750 750 0 0 1 1177 343"/>
<path class="ey" d="M904 328A750 750 0 0 1 1033 374"/>
<path class="ey" d="M904 328A750 750 0 0 1 931 512"/>
<path class="ey" d="M904 328A750 750 0 0 1 1148 549"/>
<path class="ey" d="M867 499A750 750 0 0 1 931 512"/>
<path class="ey" d="M867 499A750 750 0 0 1 819 346"/>
<path class="ey" d="M867 499A750 750 0 0 1 1177 343"/>
<path class="ey" d="M867 499A750 750 0 0 1 1148 549"/>
<path class="ey" d="M1196 264A750 750 0 0 1 1177 343"/>
<path class="ey" d="M1196 264A750 750 0 0 1 1140 287"/>
<path class="ey" d="M1196 264A750 750 0 0 1 1395 483"/>
<path class="ey" d="M1115 231A750 750 0 0 1 1033 738"/>
<path class="ey" d="M904 328A750 750 0 0 1 1209 593"/>
<path class="ey" d="M867 499A750 750 0 0 1 1033 738"/>
<path class="eg" d="M1461 243A750 750 0 0 1 1395 483"/>
<path class="eg" d="M1461 243A750 750 0 0 1 1177 343"/>
<path class="eg" d="M1461 243A750 750 0 0 1 1541 332"/>
<path class="eg" d="M1461 243A750 750 0 0 1 1209 593"/>
<path class="eg" d="M1461 243A750 750 0 0 1 1148 549"/>
<path class="eg" d="M1461 243A750 750 0 0 1 1371 665"/>
<path class="eg" d="M1461 243A750 750 0 0 1 1294 488"/>
<path class="eg" d="M1461 243A750 750 0 0 1 1033 374"/>
<path class="eg" d="M1461 243A750 750 0 0 1 1140 287"/>
<path class="eg" d="M1461 243A750 750 0 0 1 1228 380"/>
<path class="eg" d="M1461 243A800 800 0 0 1 1451 796"/>
<path class="eg" d="M1097 165A700 700 0 0 1 1541 332"/>
<path class="eg" d="M1097 165A800 800 0 0 1 1461 243"/>
<path class="eg" d="M1541 332A750 750 0 0 1 1395 483"/>
<path class="eg" d="M1541 332A750 750 0 0 1 1177 343"/>
<path class="eg" d="M1541 332A750 750 0 0 1 1209 593"/>
<path class="eg" d="M1541 332A750 750 0 0 1 1148 549"/>
<path class="eg" d="M1541 332A750 750 0 0 1 1491 463"/>
<path class="eg" d="M1541 332A750 750 0 0 1 1371 665"/>
<path class="eg" d="M1541 332A750 750 0 0 1 1451 796"/>
<path class="eg" d="M1541 332A750 750 0 0 1 1194 472"/>
<path class="eg" d="M1541 332A750 750 0 0 1 1033 374"/>
<path class="eg" d="M1541 332A750 750 0 0 1 1420 588"/>
<path class="eg" d="M1541 332A750 750 0 0 1 1478 657"/>
<path class="eg" d="M1033 374A750 750 0 0 1 1177 343"/>
<path class="eg" d="M1033 374A750 750 0 0 1 931 512"/>
<path class="eg" d="M1033 374A750 750 0 0 1 1148 549"/>
<path class="eg" d="M1033 374A750 750 0 0 1 1209 593"/>
<path class="eg" d="M1033 374A750 750 0 0 1 1395 483"/>
<path class="eg" d="M1033 374A750 750 0 0 1 1194 472"/>
<path class="eg" d="M1033 374A750 750 0 0 1 1033 738"/>
<path class="eg" d="M1033 374A750 750 0 0 1 1138 767"/>
<path class="eg" d="M1033 374A750 750 0 0 1 1066 400"/>
<path class="eg" d="M1033 374A750 750 0 0 1 1228 380"/>
<path class="eg" d="M1033 374A750 750 0 0 1 1140 287"/>
<path class="eg" d="M1033 374A750 750 0 0 1 819 346"/>
<path class="eg" d="M1033 374A750 750 0 0 1 910 772"/>
<path class="eg" d="M1033 374A750 750 0 0 1 1371 665"/>
<path class="eg" d="M1033 374A750 750 0 0 1 1294 488"/>
<path class="eg" d="M1066 400A750 750 0 0 1 1148 549"/>
<path class="eg" d="M1066 400A750 750 0 0 1 1209 593"/>
<path class="eg" d="M1066 400A750 750 0 0 1 931 512"/>
<path class="eg" d="M1066 400A750 750 0 0 1 1395 483"/>
<path class="eg" d="M1066 400A750 750 0 0 1 1033 738"/>
<path class="eg" d="M1066 400A750 750 0 0 1 1177 343"/>
<path class="eg" d="M1228 380A750 750 0 0 1 1395 483"/>
<path class="eg" d="M1228 380A750 750 0 0 1 1148 549"/>
<path class="eg" d="M1228 380A750 750 0 0 1 1209 593"/>
<path class="eg" d="M1228 380A750 750 0 0 1 1177 343"/>
<path class="eg" d="M1228 380A750 750 0 0 1 1194 472"/>
<path class="eg" d="M1228 380A750 750 0 0 1 1371 665"/>
<path class="eg" d="M1194 472A750 750 0 0 1 1148 549"/>
<path class="eg" d="M1194 472A750 750 0 0 1 1209 593"/>
<path class="eg" d="M1194 472A750 750 0 0 1 1395 483"/>
<path class="eg" d="M1194 472A750 750 0 0 1 931 512"/>
<path class="eg" d="M1194 472A750 750 0 0 1 1294 488"/>
<path class="eg" d="M1194 472A750 750 0 0 1 1033 738"/>
<path class="eg" d="M1294 488A750 750 0 0 1 1395 483"/>
<path class="eg" d="M1294 488A750 750 0 0 1 1148 549"/>
<path class="eg" d="M1294 488A750 750 0 0 1 1209 593"/>
<path class="eg" d="M1294 488A750 750 0 0 1 1371 665"/>
<path class="eg" d="M1294 488A750 750 0 0 1 1138 767"/>
<path class="eg" d="M1395 483A750 750 0 0 1 1148 549"/>
<path class="eg" d="M1395 483A750 750 0 0 1 1209 593"/>
<path class="eg" d="M1395 483A750 750 0 0 1 1371 665"/>
<path class="eg" d="M1395 483A750 750 0 0 1 1451 796"/>
<path class="eg" d="M1395 483A750 750 0 0 1 1420 588"/>
<path class="eg" d="M1395 483A750 750 0 0 1 1322 636"/>
<path class="eg" d="M1395 483A750 750 0 0 1 1478 657"/>
<path class="eg" d="M1395 483A750 750 0 0 1 1138 767"/>
<path class="eg" d="M1395 483A750 750 0 0 1 1033 738"/>
<path class="eg" d="M1395 483A750 750 0 0 1 931 512"/>
<path class="eg" d="M1395 483A750 750 0 0 1 910 772"/>
<path class="eg" d="M1395 483A750 750 0 0 1 1491 463"/>
<path class="eg" d="M1395 483A750 750 0 0 1 1044 808"/>
<path class="eg" d="M1491 463A750 750 0 0 1 1451 796"/>
<path class="eg" d="M1491 463A750 750 0 0 1 1371 665"/>
<path class="eg" d="M1491 463A750 750 0 0 1 1209 593"/>
<path class="eg" d="M931 512A750 750 0 0 1 1148 549"/>
<path class="eg" d="M931 512A750 750 0 0 1 1209 593"/>
<path class="eg" d="M931 512A750 750 0 0 1 1033 738"/>
<path class="eg" d="M931 512A750 750 0 0 1 910 772"/>
<path class="eg" d="M931 512A750 750 0 0 1 1138 767"/>
<path class="eg" d="M931 512A750 750 0 0 1 954 578"/>
<path class="eg" d="M931 512A750 750 0 0 1 1044 808"/>
<path class="eg" d="M931 512A750 750 0 0 1 1177 343"/>
<path class="eg" d="M931 512A750 750 0 0 1 965 812"/>
<path class="eg" d="M931 512A750 750 0 0 1 1371 665"/>
<path class="eg" d="M1148 549A750 750 0 0 1 1209 593"/>
<path class="eg" d="M1148 549A750 750 0 0 1 1033 738"/>
<path class="eg" d="M1148 549A750 750 0 0 1 1138 767"/>
<path class="eg" d="M1148 549A750 750 0 0 1 910 772"/>
<path class="eg" d="M1148 549A750 750 0 0 1 1371 665"/>
<path class="eg" d="M1148 549A750 750 0 0 1 1451 796"/>
<path class="eg" d="M1148 549A750 750 0 0 1 1420 588"/>
<path class="eg" d="M1148 549A750 750 0 0 1 1322 636"/>
<path class="eg" d="M1148 549A750 750 0 0 1 1044 808"/>
<path class="eg" d="M1148 549A750 750 0 0 1 1177 343"/>
<path class="eg" d="M1148 549A750 750 0 0 1 1478 657"/>
<path class="eg" d="M1420 588A750 750 0 0 1 1371 665"/>
<path class="eg" d="M1420 588A750 750 0 0 1 1451 796"/>
<path class="eg" d="M1420 588A750 750 0 0 1 1209 593"/>
<path class="eg" d="M1420 588A750 750 0 0 1 1138 767"/>
<path class="eg" d="M1420 588A750 750 0 0 1 1478 657"/>
<path class="eg" d="M1322 636A750 750 0 0 1 1209 593"/>
<path class="eg" d="M1322 636A750 750 0 0 1 1371 665"/>
<path class="eg" d="M1322 636A750 750 0 0 1 1451 796"/>
<path class="eg" d="M1209 593A750 750 0 0 1 1033 738"/>
<path class="eg" d="M1209 593A750 750 0 0 1 1138 767"/>
<path class="eg" d="M1209 593A750 750 0 0 1 910 772"/>
<path class="eg" d="M1209 593A750 750 0 0 1 1371 665"/>
<path class="eg" d="M1209 593A750 750 0 0 1 1451 796"/>
<path class="eg" d="M1209 593A750 750 0 0 1 1044 808"/>
<path class="eg" d="M1209 593A750 750 0 0 1 1478 657"/>
<path class="eg" d="M1209 593A750 750 0 0 1 965 812"/>
<path class="eg" d="M1209 593A750 750 0 0 1 1147 864"/>
<path class="eg" d="M954 578A750 750 0 0 1 1033 738"/>
<path class="eg" d="M1371 665A750 750 0 0 1 1451 796"/>
<path class="eg" d="M1371 665A750 750 0 0 1 1138 767"/>
<path class="eg" d="M1371 665A750 750 0 0 1 1033 738"/>
<path class="eg" d="M1371 665A750 750 0 0 1 1478 657"/>
<path class="eg" d="M1371 665A750 750 0 0 1 1044 808"/>
<path class="eg" d="M1478 657A750 750 0 0 1 1451 796"/>
<path class="eg" d="M1478 657A750 750 0 0 1 1138 767"/>
<path class="eg" d="M1033 738A750 750 0 0 1 910 772"/>
<path class="eg" d="M1033 738A750 750 0 0 1 1138 767"/>
<path class="eg" d="M1033 738A750 750 0 0 1 1044 808"/>
<path class="eg" d="M1033 738A750 750 0 0 1 965 812"/>
<path class="eg" d="M1033 738A750 750 0 0 1 1451 796"/>
<path class="eg" d="M1033 738A750 750 0 0 1 816 896"/>
<path class="eg" d="M910 772A750 750 0 0 1 1138 767"/>
<path class="eg" d="M910 772A750 750 0 0 1 1044 808"/>
<path class="eg" d="M910 772A750 750 0 0 1 965 812"/>
<path class="eg" d="M910 772A750 750 0 0 1 816 896"/>
<path class="eg" d="M1451 796A750 750 0 0 1 910 772"/>
<path class="eg" d="M1138 767A750 750 0 0 1 1147 864"/>
<path class="eg" d="M1147 864A300 300 0 0 1 1138 767"/>
<path class="eg" d="M1138 767A750 750 0 0 1 1044 808"/>
<path class="eg" d="M1451 796A700 700 0 0 1 1138 767"/>
<path class="eg" d="M1138 767A750 750 0 0 1 965 812"/>
<path class="eg" d="M1138 767A750 750 0 0 1 816 896"/>
<path class="eg" d="M1451 796A750 750 0 0 1 1044 808"/>
<path class="eg" d="M1044 808A750 750 0 0 1 965 812"/>
<path class="eg" d="M1044 808A750 750 0 0 1 1147 864"/>
<path class="eg" d="M816 896A750 750 0 0 1 1148 549"/>
<path class="eg" d="M816 896A750 750 0 0 1 1209 593"/>
<path class="eg" d="M816 896A750 750 0 0 1 931 512"/>
<path class="eg" d="M1147 864A750 750 0 0 1 1033 738"/>
<path class="eg" d="M1371 665A750 750 0 0 1 1177 343"/>
<path class="eg" d="M1451 796A750 750 0 0 1 1177 343"/>
<path class="eg" d="M1066 400A750 750 0 0 1 1138 767"/>
<path class="eg" d="M1228 380A750 750 0 0 1 1033 738"/>
<path class="eg" d="M1194 472A750 750 0 0 1 1138 767"/>
<path class="eg" d="M1294 488A750 750 0 0 1 1033 738"/>
<path class="eg" d="M954 578A750 750 0 0 1 1148 549"/>
<path class="eg" d="M954 578A750 750 0 0 1 1209 593"/>
<path class="eg" d="M1147 864A750 750 0 0 1 1148 549"/>
<path class="eg" d="M965 812A750 750 0 0 1 1148 549"/>
<path class="eg" d="M965 812A750 750 0 0 1 1209 593"/>
<path class="eg" d="M1033 374A750 750 0 0 1 1451 796"/>
<path class="eg" d="M1033 374A750 750 0 0 1 1420 588"/>
<path class="eg" d="M1194 472A750 750 0 0 1 1371 665"/>
<path class="eg" d="M1194 472A750 750 0 0 1 1451 796"/>
<path class="eg" d="M1395 483A750 750 0 0 1 1147 864"/>
<path class="eg" d="M931 512A750 750 0 0 1 1451 796"/>
<path class="ep" d="M1412 347A750 750 0 0 1 1177 343"/>
<path class="ep" d="M1412 347A750 750 0 0 1 1395 483"/>
<path class="ep" d="M1412 347A750 750 0 0 1 1541 332"/>
<path class="ep" d="M1412 347A750 750 0 0 1 1148 549"/>
<path class="ep" d="M1412 347A750 750 0 0 1 1209 593"/>
<path class="ep" d="M1412 347A750 750 0 0 1 1140 287"/>
<path class="ep" d="M1412 347A750 750 0 0 1 1033 374"/>
<path class="ep" d="M1412 347A750 750 0 0 1 1371 665"/>
<path class="ep" d="M1412 347A750 750 0 0 1 1451 796"/>
<path class="ep" d="M1412 347A750 750 0 0 1 1420 588"/>
<path class="ep" d="M1412 347A1000 1000 0 0 1 773 507"/>
<path class="ep" d="M1412 347A750 750 0 0 1 931 512"/>
<path class="ep" d="M1412 347A750 750 0 0 1 1294 488"/>
<path class="ep" d="M1261 255A750 750 0 0 1 1412 347"/>
<path class="ep" d="M768 688A750 750 0 0 1 773 507"/>
<path class="ep" d="M768 688A750 750 0 0 1 597 601"/>
<path class="ep" d="M768 688A750 750 0 0 1 733 619"/>
<path class="ep" d="M768 688A750 750 0 0 1 663 651"/>
<path class="ep" d="M768 688A750 750 0 0 1 804 624"/>
<path class="ep" d="M768 688A750 750 0 0 1 930 688"/>
<path class="ep" d="M768 688A750 750 0 0 1 931 512"/>
<path class="ep" d="M768 688A750 750 0 0 1 1033 738"/>
<path class="ep" d="M768 688A750 750 0 0 1 744 645"/>
<path class="ep" d="M768 688A750 750 0 0 1 1209 593"/>
<path class="ep" d="M768 688A750 750 0 0 1 1177 343"/>
<path class="ep" d="M733 619A750 750 0 0 1 773 507"/>
<path class="ep" d="M733 619A750 750 0 0 1 597 601"/>
<path class="ep" d="M733 619A750 750 0 0 1 931 512"/>
<path class="ep" d="M733 619A750 750 0 0 1 804 624"/>
<path class="ep" d="M733 619A750 750 0 0 1 585 338"/>
<path class="ep" d="M663 651A750 750 0 0 1 597 601"/>
<path class="ep" d="M663 651A750 750 0 0 1 773 507"/>
<path class="ep" d="M663 651A750 750 0 0 1 931 512"/>
<path class="ep" d="M663 651A750 750 0 0 1 359 426"/>
<path class="ep" d="M930 688A750 750 0 0 1 931 512"/>
<path class="ep" d="M930 688A750 750 0 0 1 1033 738"/>
<path class="ep" d="M930 688A750 750 0 0 1 910 772"/>
<path class="ep" d="M930 688A750 750 0 0 1 773 507"/>
<path class="ep" d="M930 688A750 750 0 0 1 1148 549"/>
</g>
<g id="n-r1"><circle class="nr" cx="278" cy="306" r="9"/></g>
<g id="n-r2"><circle class="nr" cx="512" cy="313" r="10"/></g>
<g id="n-r3"><circle class="nr" cx="602" cy="304" r="15"/></g>
<g id="n-r4"><circle class="nr" cx="634" cy="362" r="13"/></g>
<g id="n-r5"><circle class="nr" cx="349" cy="394" r="9"/></g>
<g id="n-r6"><circle class="nr" cx="396" cy="389" r="10"/></g>
<g id="n-r7"><circle class="nr" cx="331" cy="438" r="15"/></g>
<g id="n-r8"><circle class="nr" cx="427" cy="460" r="10"/></g>
<g id="n-r9"><circle class="nr" cx="348" cy="484" r="9"/></g>
<g id="n-r11"><circle class="nr" cx="642" cy="493" r="13"/></g>
<g id="n-r12"><circle class="nr" cx="526" cy="509" r="10"/></g>
<g id="n-r14"><circle class="nr" cx="751" cy="474" r="11"/></g>
<g id="n-r15"><circle class="nr" cx="389" cy="555" r="11"/></g>
<g id="n-r16"><circle class="nr" cx="333" cy="579" r="8"/></g>
<g id="n-r17"><circle class="nr" cx="346" cy="603" r="10"/></g>
<g id="n-r18"><circle class="nr" cx="397" cy="606" r="13"/></g>
<g id="n-r19"><circle class="nr" cx="464" cy="574" r="15"/></g>
<g id="n-r20"><circle class="nr" cx="296" cy="624" r="10"/></g>
<g id="n-r21"><circle class="nr" cx="839" cy="627" r="13"/></g>
<g id="n-r22"><circle class="nr" cx="744" cy="645" r="15"/></g>
<g id="n-r23"><circle class="nr" cx="681" cy="704" r="10"/></g>
<g id="n-r24"><circle class="nr" cx="753" cy="736" r="11"/></g>
<g id="n-r25"><circle class="nr" cx="601" cy="761" r="9"/></g>
<g id="n-r26"><circle class="nr" cx="657" cy="765" r="10"/></g>
<g id="n-r27"><circle class="nr" cx="346" cy="755" r="9"/></g>
<g id="n-r28"><circle class="nr" cx="362" cy="761" r="7"/></g>
<g id="n-r29"><circle class="nr" cx="393" cy="769" r="10"/></g>
<g id="n-p1"><circle class="np" cx="733" cy="619" r="10"/></g>
<g id="n-p2"><circle class="np" cx="663" cy="651" r="12"/></g>
<g id="n-b1"><circle class="nb" cx="750" cy="62" r="7"/></g>
<g id="n-y1"><circle class="ny" cx="797" cy="38" r="8"/></g>
<g id="n-y2"><circle class="ny" cx="903" cy="60" r="9"/></g>
<g id="n-y3"><circle class="ny" cx="988" cy="215" r="7"/></g>
<g id="n-y4"><circle class="ny" cx="1196" cy="264" r="8"/></g>
<g id="n-y5"><circle class="ny" cx="880" cy="270" r="7"/></g>
<g id="n-y6"><circle class="ny" cx="904" cy="328" r="17"/></g>
<g id="n-y7"><circle class="ny" cx="867" cy="499" r="15"/></g>
<g id="n-g1"><circle class="ng" cx="1541" cy="332" r="9"/></g>
<g id="n-g2"><circle class="ng" cx="1066" cy="400" r="13"/></g>
<g id="n-g3"><circle class="ng" cx="1228" cy="380" r="13"/></g>
<g id="n-g4"><circle class="ng" cx="1294" cy="488" r="15"/></g>
<g id="n-g5"><circle class="ng" cx="1491" cy="463" r="6"/></g>
<g id="n-g6"><circle class="ng" cx="1420" cy="588" r="9"/></g>
<g id="n-g7"><circle class="ng" cx="1322" cy="636" r="6"/></g>
<g id="n-g8"><circle class="ng" cx="1478" cy="657" r="9"/></g>
<g id="n-g9"><circle class="ng" cx="965" cy="812" r="7"/></g>
<g id="n-model"><circle class="nr" cx="773" cy="507" r="40"/><text x="772" y="517.6" font-size="36.4" textLength="108">model</text></g>
<g id="n-concrete"><circle class="nb" cx="1177" cy="343" r="25"/><text x="1174.5" y="352.2" font-size="28.8" textLength="117">concrete</text></g>
<g id="n-concept"><circle class="nr" cx="272" cy="487" r="25"/><text x="269" y="495.3" font-size="29.2" textLength="108">concept</text></g>
<g id="n-control"><circle class="nr" cx="374" cy="586" r="23"/><text x="370.5" y="594.2" font-size="28.7" textLength="95">control</text></g>
<g id="n-effect"><circle class="nb" cx="851" cy="280" r="23"/><text x="853" y="288.8" font-size="27.4" textLength="72">effect</text></g>
<g id="n-property"><circle class="nb" cx="819" cy="346" r="23"/><text x="821" y="354.7" font-size="27.1" textLength="110">property</text></g>
<g id="n-parameter"><circle class="ng" cx="931" cy="512" r="23"/><text x="929" y="520.3" font-size="29.1" textLength="144">parameter</text></g>
<g id="n-role"><circle class="nr" cx="359" cy="426" r="22"/><text x="358.5" y="433.6" font-size="26.8" textLength="49">role</text></g>
<g id="n-test"><circle class="ng" cx="1033" cy="374" r="22"/><text x="1033.5" y="382.6" font-size="26.9" textLength="47">test</text></g>
<g id="n-measurement"><circle class="nr" cx="597" cy="601" r="22"/><text x="599" y="608.7" font-size="27.1" textLength="178">measurement</text></g>
<g id="n-prediction"><circle class="ng" cx="1148" cy="549" r="21"/><text x="1151.5" y="556.7" font-size="27.1" textLength="129">prediction</text></g>
<g id="n-testing"><circle class="nr" cx="585" cy="338" r="20"/><text x="587" y="346.9" font-size="27.8" textLength="88">testing</text></g>
<g id="n-artificial-neural-network"><circle class="ng" cx="1209" cy="593" r="20"/><text x="1204" y="600.1" font-size="25.4" textLength="282">artificial neural network</text></g>
<g id="n-sample"><circle class="ny" cx="1115" cy="231" r="19"/><text x="1115" y="239.1" font-size="25.3" textLength="86">sample</text></g>
<g id="n-compressive-strength"><circle class="ng" cx="1395" cy="483" r="19"/><text x="1390" y="492.1" font-size="25.3" textLength="254">compressive strength</text></g>
<g id="n-innovation"><circle class="nr" cx="247" cy="300" r="18"/><text x="245" y="308.3" font-size="25.8" textLength="128">innovation</text></g>
<g id="n-influence"><circle class="nr" cx="710" cy="429" r="18"/><text x="712" y="435.6" font-size="23.8" textLength="102">influence</text></g>
<g id="n-error"><circle class="ng" cx="1033" cy="738" r="18"/><text x="1033.5" y="744.9" font-size="24.7" textLength="59">error</text></g>
<g id="n-scale"><circle class="nr" cx="322" cy="168" r="16"/><text x="323" y="175.4" font-size="23.2" textLength="54">scale</text></g>
<g id="n-strength"><circle class="nb" cx="1140" cy="287" r="16"/><text x="1139.5" y="295.1" font-size="25.2" textLength="99">strength</text></g>
<g id="n-training"><circle class="ny" cx="756" cy="253" r="16"/><text x="757" y="260.6" font-size="23.8" textLength="86">training</text></g>
<g id="n-defect"><circle class="nr" cx="576" cy="485" r="15"/><text x="575" y="491.2" font-size="25.5" textLength="74">defect</text></g>
<g id="n-mechanical-property"><circle class="nb" cx="1097" cy="165" r="15"/><text x="1095.5" y="171.9" font-size="21.7" textLength="209">mechanical property</text></g>
<g id="n-wave"><circle class="nr" cx="804" cy="624" r="15"/><text x="806" y="627.5" font-size="23.4" textLength="56">wave</text></g>
<g id="n-ultrasonic-pulse-velocity"><circle class="np" cx="1412" cy="347" r="15"/><text x="1413.5" y="352" font-size="21.75" textLength="243">ultrasonic pulse velocity</text></g>
<g id="n-coefficient"><circle class="ng" cx="1138" cy="767" r="15"/><text x="1139.5" y="773.6" font-size="23.8" textLength="115">coefficient</text></g>
<g id="n-composite"><circle class="nb" cx="679" cy="188" r="14"/><text x="679" y="192.9" font-size="21.7" textLength="106">composite</text></g>
<g id="n-difference"><circle class="nr" cx="446" cy="422" r="14"/><text x="443.5" y="427.9" font-size="21.5" textLength="101">difference</text></g>
<g id="n-increase"><circle class="nb" cx="819" cy="438" r="14"/><text x="821" y="445.5" font-size="23.5" textLength="92">increase</text></g>
<g id="n-experimental-result"><circle class="nr" cx="692" cy="738" r="13"/><text x="695.5" y="744.7" font-size="24" textLength="219">experimental result</text></g>
<g id="n-input"><circle class="ng" cx="910" cy="772" r="13"/><text x="910" y="776.8" font-size="24.5" textLength="60">input</text></g>
<g id="n-sustainability"><circle class="nr" cx="436" cy="174" r="12"/><text x="435.5" y="179.9" font-size="21.6" textLength="133">sustainability</text></g>
<g id="n-fiber"><circle class="nb" cx="819" cy="32" r="12"/><text x="820" y="35.8" font-size="21.1" textLength="46">fiber</text></g>
<g id="n-durability"><circle class="nb" cx="773" cy="115" r="12"/><text x="773.5" y="120" font-size="21.9" textLength="97">durability</text></g>
<g id="n-loading"><circle class="nb" cx="881" cy="112" r="12"/><text x="880.5" y="117" font-size="21.8" textLength="75">loading</text></g>
<g id="n-variation"><circle class="nb" cx="680" cy="343" r="12"/><text x="679.5" y="348.1" font-size="22.2" textLength="91">variation</text></g>
<g id="n-correlation"><circle class="np" cx="768" cy="688" r="12"/><text x="767" y="693.9" font-size="21.6" textLength="110">correlation</text></g>
<g id="n-prototype"><circle class="nr" cx="316" cy="237" r="11"/><text x="315.5" y="243.3" font-size="19.75" textLength="91">prototype</text></g>
<g id="n-ratio"><circle class="ng" cx="1194" cy="472" r="11"/><text x="1194" y="475.6" font-size="23.9" textLength="52">ratio</text></g>
<g id="n-computer-vision"><circle class="nr" cx="431" cy="740" r="11"/><text x="430.5" y="746" font-size="21.9" textLength="165">computer vision</text></g>
<g id="n-computer-science"><circle class="nr" cx="407" cy="309" r="10"/><text x="405" y="313.9" font-size="21.6" textLength="178">computer science</text></g>
<g id="n-new-method"><circle class="nr" cx="607" cy="231" r="10"/><text x="605.5" y="236.4" font-size="19.9" textLength="117">new method</text></g>
<g id="n-data-set"><circle class="ny" cx="553" cy="178" r="10"/><text x="551.5" y="183.4" font-size="20.1" textLength="75">data set</text></g>
<g id="n-aggregate"><circle class="nb" cx="1261" cy="255" r="10"/><text x="1260.5" y="260.8" font-size="21.4" textLength="99">aggregate</text></g>
<g id="n-data-collection"><circle class="nr" cx="243" cy="667" r="10"/><text x="242.5" y="670.9" font-size="21.6" textLength="147">data collection</text></g>
<g id="n-support-vector-machine"><circle class="ng" cx="1371" cy="665" r="10"/><text x="1370.5" y="669" font-size="21.9" textLength="243">support vector machine</text></g>
<g id="n-prediction-model"><circle class="ng" cx="1044" cy="808" r="10"/><text x="1045.5" y="810" font-size="21.9" textLength="175">prediction model</text></g>
<g id="n-nondestructive-evaluation"><circle class="nr" cx="557" cy="527" r="10"/><text x="558" y="528.9" font-size="21.7" textLength="264">nondestructive evaluation</text></g>
<g id="n-civil-engineering"><circle class="nb" cx="761" cy="386" r="9"/><text x="761.5" y="391.5" font-size="20.3" textLength="153">civil engineering</text></g>
<g id="n-new-technology"><circle class="nr" cx="93" cy="355" r="8"/><text x="91" y="361.5" font-size="20.2" textLength="148">new technology</text></g>
<g id="n-contrast"><circle class="nr" cx="235" cy="348" r="8"/><text x="237.5" y="354.4" font-size="20" textLength="77">contrast</text></g>
<g id="n-experimental-study"><circle class="nb" cx="951" cy="230" r="8"/><text x="951.5" y="235.4" font-size="20.1" textLength="181">experimental study</text></g>
<g id="n-density"><circle class="nb" cx="969" cy="464" r="8"/><text x="970" y="473.4" font-size="20.1" textLength="68">density</text></g>
<g id="n-ultrasound"><circle class="nr" cx="556" cy="785" r="8"/><text x="554.5" y="789.6" font-size="20.6" textLength="105">ultrasound</text></g>
<g id="n-ultrasonic-sensor"><circle class="nr" cx="440" cy="849" r="8"/><text x="442" y="854.6" font-size="20.5" textLength="164">ultrasonic sensor</text></g>
<g id="n-ann-model"><circle class="ng" cx="1451" cy="796" r="8"/><text x="1452" y="801.4" font-size="20" textLength="100">ann model</text></g>
<g id="n-environmental-impact"><circle class="nb" cx="549" cy="43" r="7"/><text x="549.5" y="49.4" font-size="20.1" textLength="207">environmental impact</text></g>
<g id="n-tensile-strength"><circle class="nb" cx="1277" cy="39" r="7"/><text x="1278" y="43.5" font-size="20.3" textLength="148">tensile strength</text></g>
<g id="n-air"><circle class="nr" cx="429" cy="488" r="7"/><text x="429" y="493.3" font-size="19.6" textLength="24">air</text></g>
<g id="n-sensitivity"><circle class="ng" cx="954" cy="578" r="6"/><text x="954" y="580.8" font-size="21.2" textLength="98">sensitivity</text></g>
<g id="n-destructive-testing"><circle class="np" cx="930" cy="688" r="6"/><text x="929.5" y="693.4" font-size="20.1" textLength="173">destructive testing</text></g>
<g id="n-decrease"><circle class="ng" cx="1147" cy="864" r="6"/><text x="1147.5" y="867.3" font-size="19.7" textLength="83">decrease</text></g>
<g id="n-artificial-intelligence-techni"><circle class="ng" cx="816" cy="896" r="6"/><text x="816.5" y="901.5" font-size="20.3" textLength="253">artificial intelligence techni</text></g>
<g id="n-additive-manufacturing"><circle class="nr" cx="202" cy="102" r="5"/><text x="199.5" y="107.5" font-size="20.2" textLength="219">additive manufacturing</text></g>
<g id="n-fly-ash"><circle class="ng" cx="1461" cy="243" r="5"/><text x="1462" y="248.4" font-size="20" textLength="60">fly ash</text></g>
</g>
</svg>
